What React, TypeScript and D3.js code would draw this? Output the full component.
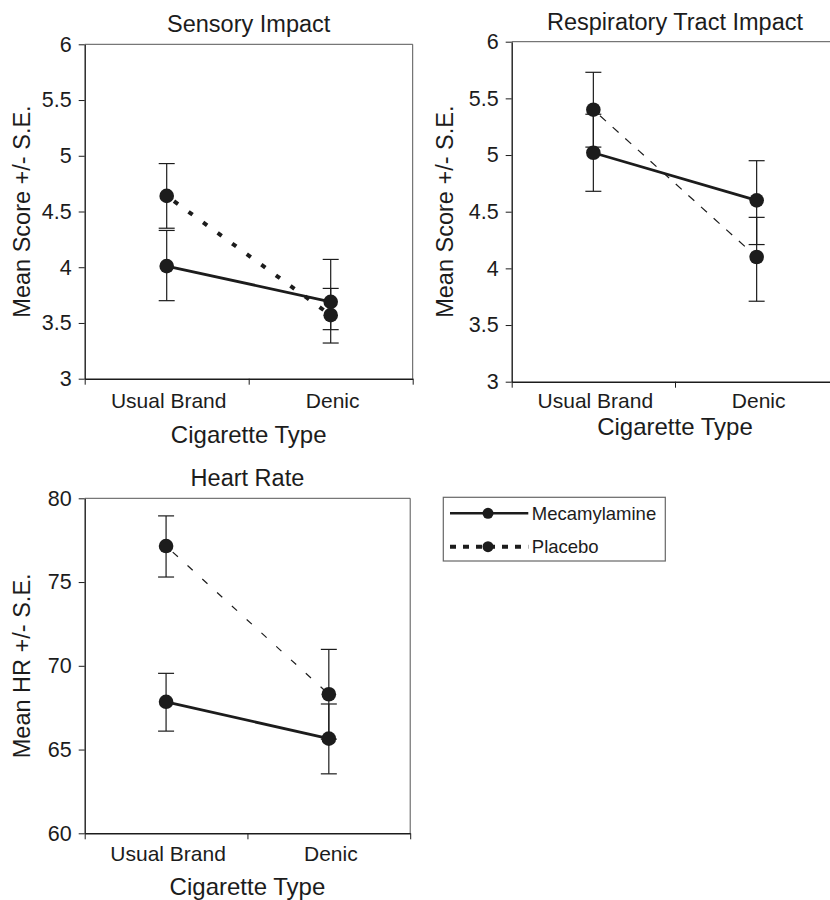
import { useRef, useEffect } from "react";
import * as d3 from "d3";

const categories = ["Usual Brand", "Denic"];
const seriesNames = ["Mecamylamine", "Placebo"];

// sensory impact
const sensoryMeca = [4.01, 3.69];
const sensoryMecaHi = [4.33, 4.07];
const sensoryMecaLo = [3.7, 3.32];
const sensoryPlacebo = [4.64, 3.57];
const sensoryPlaceboHi = [4.93, 3.81];
const sensoryPlaceboLo = [4.35, 3.44];

// respiratory tract impact
const respMeca = [5.02, 4.6];
const respMecaHi = [5.36, 4.95];
const respMecaLo = [4.68, 4.21];
const respPlacebo = [5.4, 4.1];
const respPlaceboHi = [5.73, 4.45];
const respPlaceboLo = [5.07, 3.71];

// heart rate
const hrMeca = [67.85, 65.65];
const hrMecaHi = [69.55, 67.72];
const hrMecaLo = [66.1, 63.55];
const hrPlacebo = [77.15, 68.3];
const hrPlaceboHi = [78.95, 70.98];
const hrPlaceboLo = [75.3, 65.62];

const scoreTicks = [3, 3.5, 4, 4.5, 5, 5.5, 6];
const hrTicks = [60, 65, 70, 75, 80];

const FONT = "Arial, 'Liberation Sans', sans-serif";
const INK = "#1c1c1c";

export default function App() {
  const ref = useRef<SVGSVGElement>(null);

  useEffect(() => {
    const svg = d3.select(ref.current);
    svg.selectAll("*").remove();

    const panels = [
      {
        title: "Sensory Impact",
        yTitle: "Mean Score +/- S.E.",
        left: 84.7, top: 44.3, width: 328, height: 334.4,
        domain: [3, 6], ticks: scoreTicks,
        catDy: 29, xTitleDy: 64, yTitleDx: -55,
        dash: "5,13", dashWidth: 4,
        meca: [sensoryMeca, sensoryMecaHi, sensoryMecaLo],
        placebo: [sensoryPlacebo, sensoryPlaceboHi, sensoryPlaceboLo],
      },
      {
        title: "Respiratory Tract Impact",
        yTitle: "Mean Score +/- S.E.",
        left: 511.7, top: 41.7, width: 326.6, height: 340,
        domain: [3, 6], ticks: scoreTicks,
        catDy: 26.5, xTitleDy: 53, yTitleDx: -58.7,
        dash: "8,9", dashWidth: 1.2,
        meca: [respMeca, respMecaHi, respMecaLo],
        placebo: [respPlacebo, respPlaceboHi, respPlaceboLo],
      },
      {
        title: "Heart Rate",
        yTitle: "Mean HR +/- S.E.",
        left: 84.7, top: 498.3, width: 325.5, height: 335,
        domain: [60, 80], ticks: hrTicks,
        catDy: 27.5, xTitleDy: 62, yTitleDx: -54.7,
        dash: "7,13", dashWidth: 1.2,
        meca: [hrMeca, hrMecaHi, hrMecaLo],
        placebo: [hrPlacebo, hrPlaceboHi, hrPlaceboLo],
      },
    ];

    panels.forEach((p) => {
      const g = svg.append("g").attr("transform", `translate(${p.left},${p.top})`);

      const x = d3.scaleBand<string>().domain(categories).range([0, p.width]).padding(0);
      const xEdge = d3.scaleLinear().domain([0, categories.length]).range([0, p.width]);
      const y = d3.scaleLinear().domain(p.domain).range([p.height, 0]);
      const cx = (c: string) => (x(c) as number) + x.bandwidth() / 2;

      // frame (top + right)
      g.append("path")
        .attr("d", `M0,0H${p.width}V${p.height}`)
        .attr("fill", "none")
        .attr("stroke", "#555")
        .attr("stroke-width", 1);

      // y axis
      const yAxis = g
        .append("g")
        .call(d3.axisLeft(y).tickValues(p.ticks).tickSize(6).tickSizeOuter(0).tickPadding(7).tickFormat(d3.format("")));
      yAxis.select(".domain").attr("stroke", INK).attr("stroke-width", 1.4);
      yAxis.selectAll(".tick line").attr("stroke", INK);
      yAxis.selectAll("text").attr("font-family", FONT).attr("font-size", 21.5).attr("fill", INK);

      // x axis (ticks on category boundaries)
      const xAxis = g
        .append("g")
        .attr("transform", `translate(0,${p.height})`)
        .call(
          d3.axisBottom(xEdge).tickValues(d3.range(categories.length + 1)).tickSize(6).tickSizeOuter(0).tickFormat(() => "")
        );
      xAxis.select(".domain").attr("stroke", INK).attr("stroke-width", 1.4);
      xAxis.selectAll(".tick line").attr("stroke", INK);

      g.selectAll(".cat")
        .data(categories)
        .join("text")
        .attr("x", (d) => cx(d) + 2)
        .attr("y", p.height + p.catDy)
        .attr("text-anchor", "middle")
        .attr("font-family", FONT)
        .attr("font-size", 21)
        .attr("fill", INK)
        .text((d) => d);

      g.append("text")
        .attr("x", p.width / 2)
        .attr("y", p.height + p.xTitleDy)
        .attr("text-anchor", "middle")
        .attr("font-family", FONT)
        .attr("font-size", 24)
        .attr("fill", INK)
        .text("Cigarette Type");

      g.append("text")
        .attr("transform", `translate(${p.yTitleDx},${p.height / 2}) rotate(-90)`)
        .attr("text-anchor", "middle")
        .attr("font-family", FONT)
        .attr("font-size", 23.5)
        .attr("fill", INK)
        .text(p.yTitle);

      g.append("text")
        .attr("x", p.width / 2)
        .attr("y", -12)
        .attr("text-anchor", "middle")
        .attr("font-family", FONT)
        .attr("font-size", 23.5)
        .attr("fill", INK)
        .text(p.title);

      const series = [
        { name: seriesNames[1], vals: p.placebo, dash: p.dash, width: p.dashWidth },
        { name: seriesNames[0], vals: p.meca, dash: null, width: 2.8 },
      ];

      series.forEach((s) => {
        const [mean, hi, lo] = s.vals;
        const pts = categories.map((c, i) => ({ c, m: mean[i], hi: hi[i], lo: lo[i] }));

        // error bars
        const eb = g.append("g").attr("stroke", INK).attr("stroke-width", 1.2);
        eb.selectAll(".v")
          .data(pts)
          .join("line")
          .attr("x1", (d) => cx(d.c))
          .attr("x2", (d) => cx(d.c))
          .attr("y1", (d) => y(d.hi))
          .attr("y2", (d) => y(d.lo));
        eb.selectAll(".capHi")
          .data(pts)
          .join("line")
          .attr("x1", (d) => cx(d.c) - 8)
          .attr("x2", (d) => cx(d.c) + 8)
          .attr("y1", (d) => y(d.hi))
          .attr("y2", (d) => y(d.hi));
        eb.selectAll(".capLo")
          .data(pts)
          .join("line")
          .attr("x1", (d) => cx(d.c) - 8)
          .attr("x2", (d) => cx(d.c) + 8)
          .attr("y1", (d) => y(d.lo))
          .attr("y2", (d) => y(d.lo));

        const line = d3
          .line<{ c: string; m: number }>()
          .x((d) => cx(d.c))
          .y((d) => y(d.m));
        const path = g
          .append("path")
          .datum(pts)
          .attr("d", line)
          .attr("fill", "none")
          .attr("stroke", INK)
          .attr("stroke-width", s.width);
        if (s.dash) path.attr("stroke-dasharray", s.dash).attr("stroke-dashoffset", -9);
      });

      // markers on top
      series.forEach((s) => {
        const [mean] = s.vals;
        g.selectAll(null)
          .data(categories.map((c, i) => ({ c, m: mean[i] })))
          .join("circle")
          .attr("cx", (d) => cx(d.c))
          .attr("cy", (d) => y(d.m))
          .attr("r", 7.3)
          .attr("fill", INK);
      });
    });

    // legend
    const lg = svg.append("g").attr("transform", "translate(443.3,497.3)");
    lg.append("rect")
      .attr("width", 222)
      .attr("height", 63.7)
      .attr("fill", "white")
      .attr("stroke", "#666")
      .attr("stroke-width", 1.2);
    const rows = [
      { name: seriesNames[0], dash: null as string | null, w: 2.6, y: 16 },
      { name: seriesNames[1], dash: "6,7", w: 4, y: 49.4 },
    ];
    rows.forEach((r) => {
      const l = lg.append("line")
        .attr("x1", 6.7)
        .attr("x2", 85)
        .attr("y1", r.y)
        .attr("y2", r.y)
        .attr("stroke", INK)
        .attr("stroke-width", r.w);
      if (r.dash) l.attr("stroke-dasharray", r.dash);
      lg.append("circle").attr("cx", 44.7).attr("cy", r.y).attr("r", 5.5).attr("fill", INK);
      lg.append("text")
        .attr("x", 88.5)
        .attr("y", r.y + 6.5)
        .attr("font-family", FONT)
        .attr("font-size", 18.5)
        .attr("fill", INK)
        .text(r.name);
    });
  }, []);

  return (
    <svg
      ref={ref}
      width={830}
      height={900}
      style={{ position: "absolute", left: 0, top: 0, background: "white" }}
    />
  );
}
